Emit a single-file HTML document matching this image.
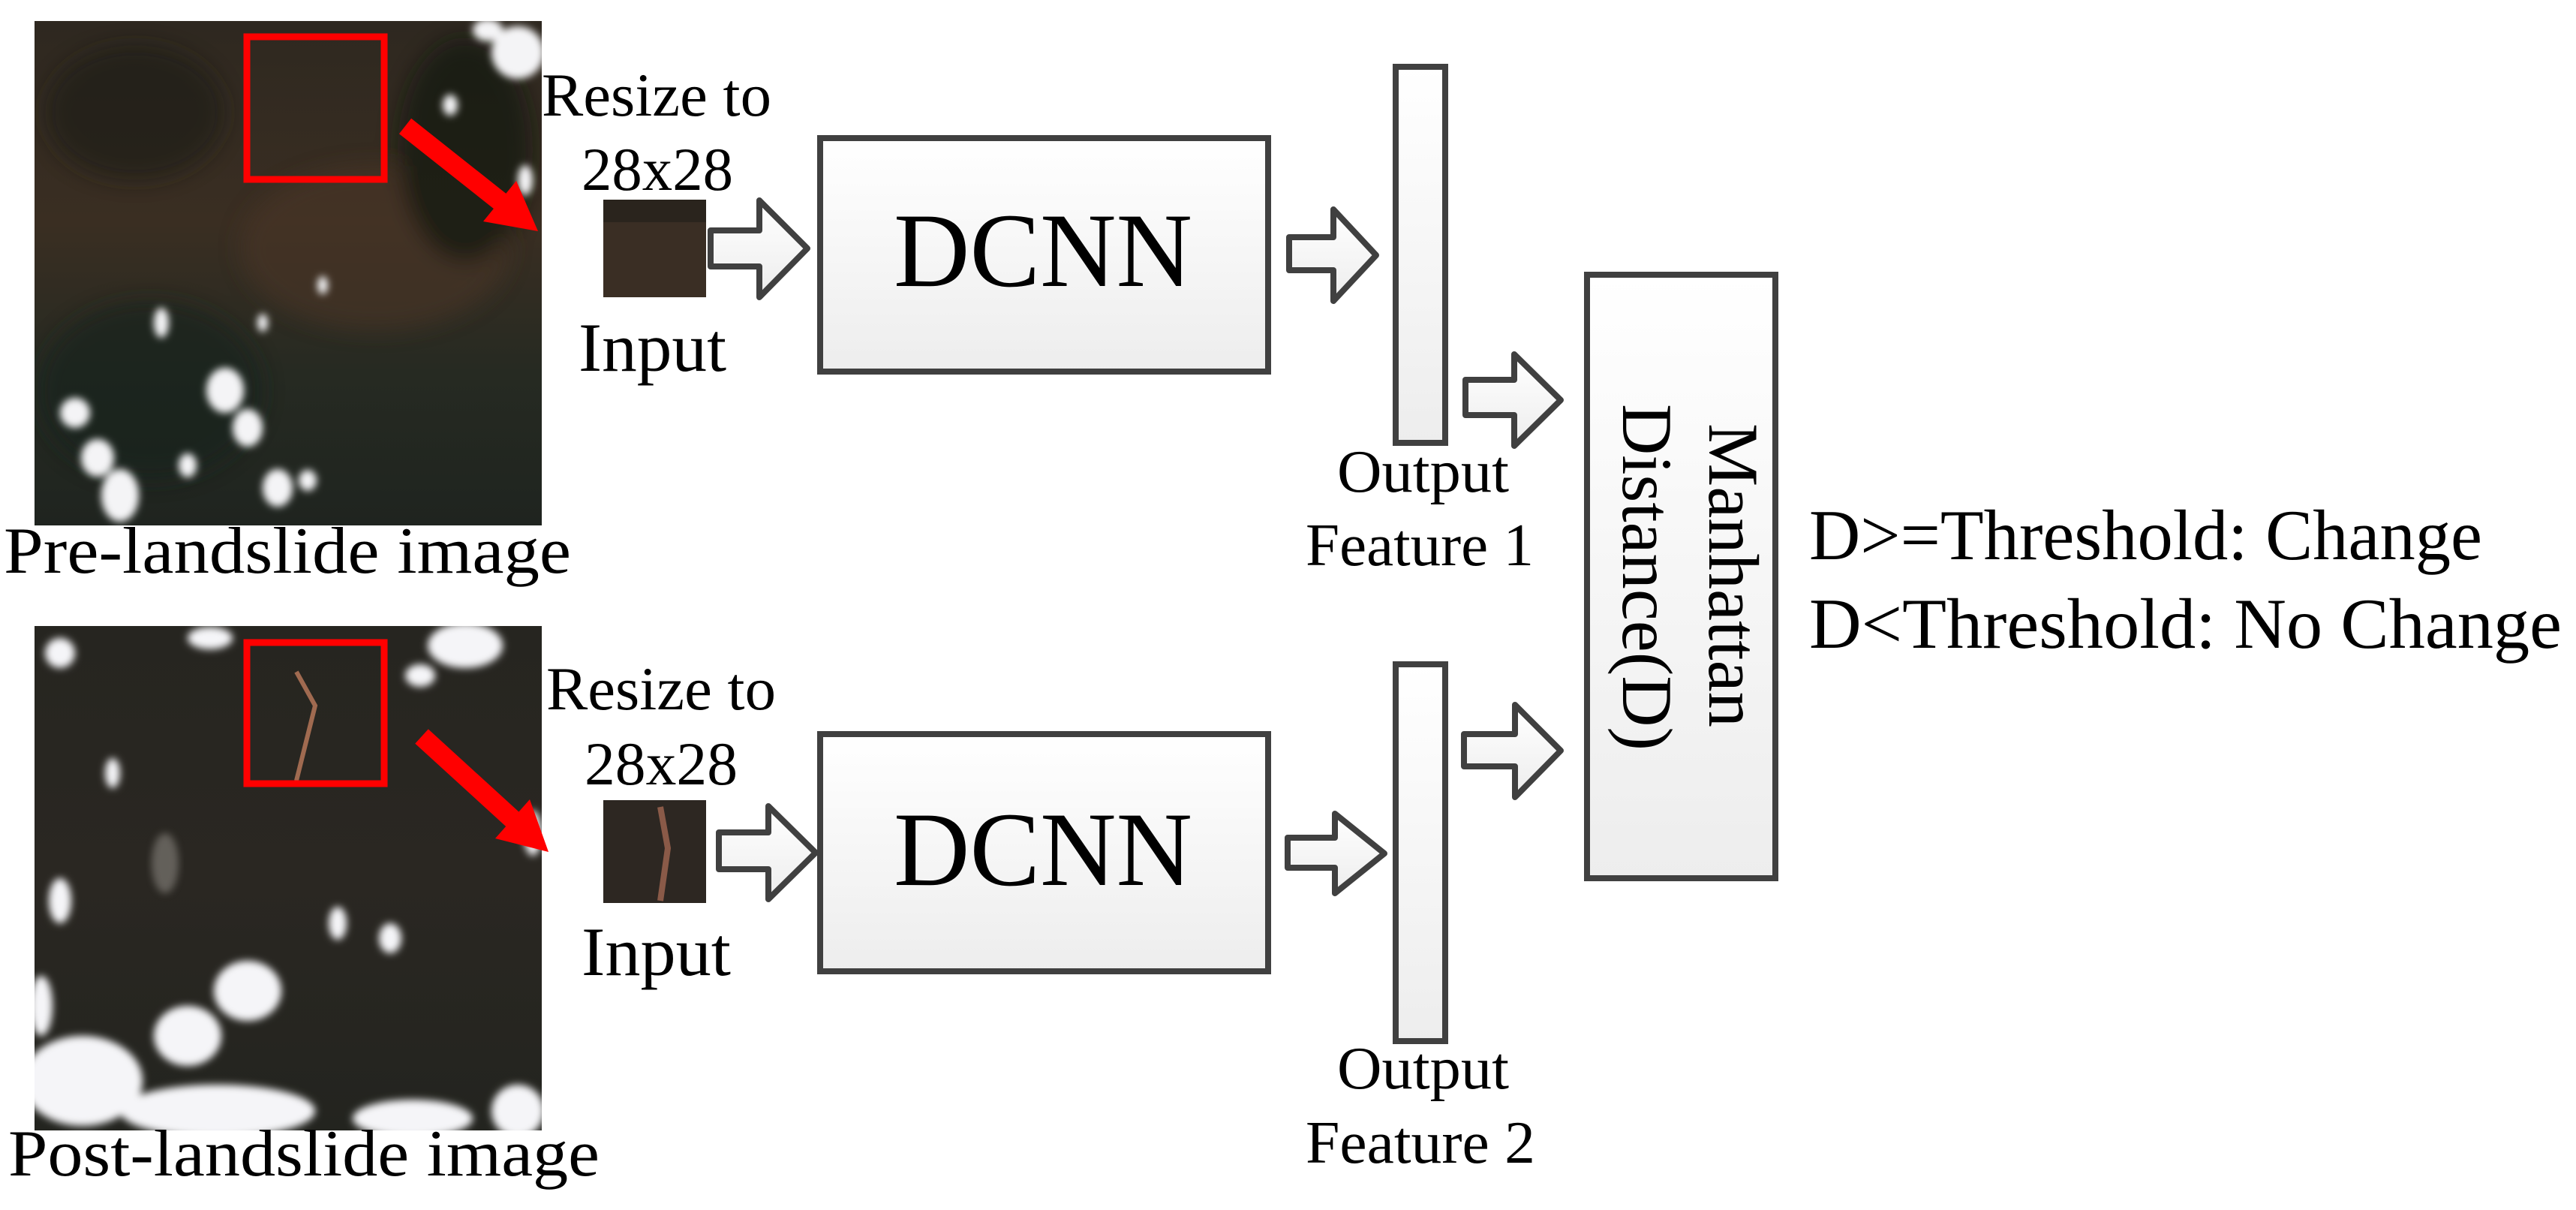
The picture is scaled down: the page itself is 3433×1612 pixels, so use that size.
<!DOCTYPE html>
<html><head><meta charset="utf-8"><style>
html,body{margin:0;padding:0;background:#fff;}
svg{display:block;}
text{font-family:"Liberation Serif","Times New Roman",serif;fill:#000;}
</style></head><body>
<svg width="3433" height="1612" viewBox="0 0 3433 1612" xmlns="http://www.w3.org/2000/svg" font-family="Liberation Serif, serif">
<defs>
<linearGradient id="g" x1="0" y1="0" x2="0" y2="1"><stop offset="0" stop-color="#ffffff"/><stop offset="1" stop-color="#ededed"/></linearGradient>
<filter id="bl" x="-20%" y="-20%" width="140%" height="140%"><feGaussianBlur stdDeviation="5"/></filter>
<filter id="bl2"><feGaussianBlur stdDeviation="14"/></filter>
<linearGradient id="pre" x1="0" y1="0" x2="0" y2="1"><stop offset="0" stop-color="#2e2820"/><stop offset="0.4" stop-color="#3a2e22"/><stop offset="0.7" stop-color="#262a22"/><stop offset="1" stop-color="#1f241f"/></linearGradient>
<linearGradient id="post" x1="0" y1="0" x2="0" y2="1"><stop offset="0" stop-color="#262520"/><stop offset="0.5" stop-color="#2a2722"/><stop offset="1" stop-color="#23241f"/></linearGradient>
<clipPath id="c1"><rect x="46" y="28" width="676" height="672"/></clipPath>
<clipPath id="c2"><rect x="46" y="834" width="676" height="672"/></clipPath>
</defs>

<!-- Pre image -->
<g clip-path="url(#c1)">
<rect x="46" y="28" width="676" height="672" fill="url(#pre)"/>
<g filter="url(#bl2)" opacity="0.6">
<ellipse cx="180" cy="150" rx="120" ry="90" fill="#1d1a16"/>
<ellipse cx="500" cy="330" rx="180" ry="110" fill="#4a3626"/>
<ellipse cx="200" cy="520" rx="150" ry="120" fill="#17201b"/>
<ellipse cx="620" cy="200" rx="90" ry="150" fill="#111311"/>
</g>
<g filter="url(#bl)" fill="#f4f4f6">
<ellipse cx="690" cy="70" rx="35" ry="35"/><ellipse cx="650" cy="40" rx="20" ry="15"/>
<ellipse cx="600" cy="140" rx="10" ry="14"/><ellipse cx="700" cy="240" rx="10" ry="20"/>
<ellipse cx="100" cy="550" rx="20" ry="20"/><ellipse cx="130" cy="610" rx="22" ry="25"/><ellipse cx="160" cy="660" rx="25" ry="35"/>
<ellipse cx="300" cy="520" rx="25" ry="30"/><ellipse cx="330" cy="570" rx="20" ry="25"/>
<ellipse cx="370" cy="650" rx="20" ry="25"/><ellipse cx="215" cy="430" rx="10" ry="20"/>
<ellipse cx="430" cy="380" rx="7" ry="12"/><ellipse cx="350" cy="430" rx="7" ry="12"/>
<ellipse cx="250" cy="620" rx="12" ry="16"/><ellipse cx="410" cy="640" rx="12" ry="14"/>
</g>
</g>
<rect x="329" y="49" width="183" height="190" fill="none" stroke="#ff0000" stroke-width="9"/>
<line x1="540" y1="168" x2="670" y2="271" stroke="#ff0000" stroke-width="26"/>
<polygon points="717,308 644,295 688,241" fill="#ff0000"/>
<rect x="804" y="266" width="137" height="130" fill="#3a2e24"/>
<rect x="804" y="266" width="137" height="30" fill="#2a241d"/>

<!-- Post image -->
<g clip-path="url(#c2)">
<rect x="46" y="834" width="676" height="672" fill="url(#post)"/>
<g filter="url(#bl)" fill="#f5f5f8">
<ellipse cx="80" cy="870" rx="20" ry="20"/><ellipse cx="280" cy="850" rx="30" ry="15"/><ellipse cx="620" cy="860" rx="50" ry="30"/>
<ellipse cx="560" cy="900" rx="20" ry="15"/>
<ellipse cx="150" cy="1030" rx="10" ry="20"/><ellipse cx="80" cy="1200" rx="15" ry="30"/>
<ellipse cx="330" cy="1320" rx="45" ry="40"/><ellipse cx="250" cy="1380" rx="45" ry="40"/>
<ellipse cx="110" cy="1440" rx="80" ry="60"/><ellipse cx="290" cy="1480" rx="130" ry="35"/>
<ellipse cx="550" cy="1490" rx="80" ry="25"/><ellipse cx="690" cy="1480" rx="35" ry="35"/>
<ellipse cx="450" cy="1230" rx="12" ry="22"/><ellipse cx="55" cy="1340" rx="15" ry="40"/>
<ellipse cx="710" cy="1110" rx="12" ry="30"/><ellipse cx="520" cy="1250" rx="15" ry="20"/>
</g>
<ellipse cx="220" cy="1150" rx="18" ry="40" fill="#8a8680" opacity="0.6" filter="url(#bl)"/>
<path d="M395 895 L420 940 L405 1000 L395 1040" stroke="#a06a50" stroke-width="6" fill="none"/>
</g>
<rect x="329" y="856" width="183" height="188" fill="none" stroke="#ff0000" stroke-width="9"/>
<line x1="562" y1="981" x2="688" y2="1096" stroke="#ff0000" stroke-width="26"/>
<polygon points="731,1135 660,1117 706,1065" fill="#ff0000"/>
<rect x="804" y="1066" width="137" height="137" fill="#2d2722"/>
<path d="M880 1075 L890 1130 L880 1200" stroke="#8a5a48" stroke-width="8" fill="none"/>

<!-- hollow arrows -->
<g fill="url(#g)" stroke="#404040" stroke-width="8" stroke-linejoin="round">
<polygon points="947,307 1012,307 1012,267 1076,331 1012,396 1012,355 947,355"/>
<polygon points="958,1109 1024,1109 1024,1074 1087,1136 1024,1198 1024,1158 958,1158"/>
<polygon points="1718,316 1777,316 1777,279 1834,340 1777,401 1777,360 1718,360"/>
<polygon points="1716,1116 1779,1116 1779,1084 1845,1137 1779,1190 1779,1156 1716,1156"/>
<polygon points="1953,506 2018,506 2018,472 2080,533 2018,594 2018,553 1953,553"/>
<polygon points="1951,978 2019,978 2019,939 2080,1000 2019,1062 2019,1021 1951,1021"/>
</g>

<!-- boxes -->
<g fill="url(#g)" stroke="#404040" stroke-width="8">
<rect x="1093" y="184" width="597" height="311"/>
<rect x="1093" y="978" width="597" height="316"/>
<rect x="1860" y="89" width="66" height="501"/>
<rect x="1860" y="885" width="66" height="502"/>
<rect x="2115" y="366" width="251" height="804"/>
</g>

<!-- texts -->
<text x="722" y="154" font-size="82" textLength="306" lengthAdjust="spacingAndGlyphs">Resize to</text>
<text x="775" y="253" font-size="82" textLength="202" lengthAdjust="spacingAndGlyphs">28x28</text>
<text x="771" y="494" font-size="92" textLength="197" lengthAdjust="spacingAndGlyphs">Input</text>
<text x="1191" y="381" font-size="141" textLength="398" lengthAdjust="spacingAndGlyphs">DCNN</text>
<text x="5" y="763" font-size="88" textLength="756" lengthAdjust="spacingAndGlyphs">Pre-landslide image</text>

<text x="728" y="945" font-size="82" textLength="306" lengthAdjust="spacingAndGlyphs">Resize to</text>
<text x="779" y="1045" font-size="82" textLength="204" lengthAdjust="spacingAndGlyphs">28x28</text>
<text x="775" y="1299" font-size="92" textLength="199" lengthAdjust="spacingAndGlyphs">Input</text>
<text x="1191" y="1179" font-size="141" textLength="398" lengthAdjust="spacingAndGlyphs">DCNN</text>
<text x="11" y="1566" font-size="88" textLength="788" lengthAdjust="spacingAndGlyphs">Post-landslide image</text>

<text x="1782" y="655" font-size="80" textLength="229" lengthAdjust="spacingAndGlyphs">Output</text>
<text x="1740" y="753" font-size="80" textLength="304" lengthAdjust="spacingAndGlyphs">Feature 1</text>
<text x="1782" y="1450" font-size="80" textLength="229" lengthAdjust="spacingAndGlyphs">Output</text>
<text x="1740" y="1549" font-size="80" textLength="306" lengthAdjust="spacingAndGlyphs">Feature 2</text>

<text transform="translate(2278,564) rotate(90)" font-size="95" textLength="405" lengthAdjust="spacingAndGlyphs">Manhattan</text>
<text transform="translate(2163,538) rotate(90)" font-size="95" textLength="462" lengthAdjust="spacingAndGlyphs">Distance(D)</text>

<text x="2411" y="745" font-size="95" textLength="897" lengthAdjust="spacingAndGlyphs">D&gt;=Threshold: Change</text>
<text x="2411" y="863" font-size="95" textLength="1003" lengthAdjust="spacingAndGlyphs">D&lt;Threshold: No Change</text>
</svg>
</body></html>
